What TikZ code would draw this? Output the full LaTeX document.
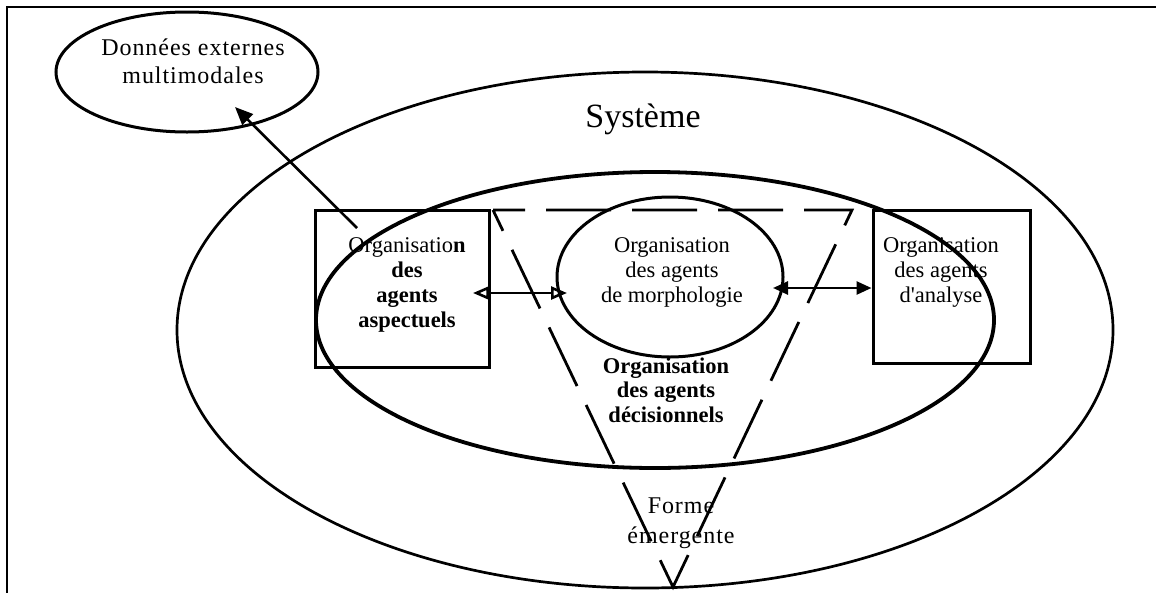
\documentclass[tikz,border=0pt]{standalone}
\usepackage{fontspec}
\setmainfont{Liberation Serif}
\newfontfamily\widefont[LetterSpace=4]{Liberation Serif}
\usetikzlibrary{shapes.geometric,arrows.meta}
\begin{document}
\begin{tikzpicture}[x=1pt,y=-1pt,
  ell/.style={draw, ellipse, inner sep=0pt, line width=2.7pt},
  boxnode/.style={draw, rectangle, inner sep=0pt, line width=3pt},
  txt/.style={align=center, inner sep=0pt, anchor=base, font=\fontsize{22.5}{25}\selectfont},
  widetxt/.style={align=center, inner sep=0pt, anchor=base, font=\widefont\fontsize{24}{29}\selectfont},
  dashtri/.style={line width=2.8pt, dash pattern=on 65pt off 21pt, dash phase=33pt},
  conn/.style={line width=2.6pt}
]
\useasboundingbox (0,0) rectangle (1156,592);
% frame
\draw[line width=2.8pt] (1160,7) -- (7,7) -- (7,596);

% shapes
\node[ell, minimum width=936pt, minimum height=516pt] (systeme) at (645,330) {};
\node[ell, line width=3.8pt, minimum width=678pt, minimum height=296pt] (inner) at (655,320) {};
\node[ell, line width=3pt, minimum width=226pt, minimum height=160pt] (morph) at (670,277) {};
\node[ell, line width=3pt, minimum width=262pt, minimum height=120pt] (donnees) at (187,72) {};
\node[boxnode, minimum width=174pt, minimum height=157pt] (lbox) at (402,288.5) {};
\node[boxnode, minimum width=157pt, minimum height=153pt] (rbox) at (951.5,286.5) {};

% dashed triangle
\coordinate (t1) at (493,210);
\coordinate (t2) at (852,210);
\coordinate (t3) at (673,587);
\draw[dashtri] (t1) -- (t2) -- (t3) -- cycle;

% texts (anchor = baseline of last line)
\node[widetxt, font=\widefont\fontsize{24}{28}\selectfont] (tdon) at (193,83) {Données externes\\multimodales};
\node[inner sep=0pt, anchor=base, font=\fontsize{34}{40}\selectfont] (tsys) at (643,127) {Système};
\node[txt] (tmorph) at (672,302) {Organisation\\des agents\\de morphologie};
\node[txt] (tleft) at (407,327) {Organisatio\textbf{n}\\\textbf{des}\\\textbf{agents}\\\textbf{aspectuels}};
\node[txt] (tright) at (941,302) {Organisation\\des agents\\d\textquotesingle analyse};
\node[txt, font=\bfseries\fontsize{22.5}{24.5}\selectfont] (tdec) at (666,422) {Organisation\\des agents\\décisionnels};
\node[widetxt, font=\widefont\fontsize{24}{30}\selectfont] (tforme) at (681,543) {Forme\\émergente};

% connectors
\coordinate (a1) at (357,228);
\coordinate (a1tip) at (235,107);
\draw[conn, -{Triangle[length=18pt, width=15pt]}] (a1) -- (a1tip);

\coordinate (b1) at (473,293);
\coordinate (b2) at (567,293);
\draw[conn, {Triangle[open, length=16pt, width=13pt]}-{Triangle[open, length=16pt, width=13pt]}] (b1) -- (b2);

\coordinate (c1) at (773,288);
\draw[conn, {Triangle[length=15pt, width=13pt]}-{Triangle[length=15pt, width=13pt]}] (c1) -- (c1 -| rbox.west);
\end{tikzpicture}
\end{document}
